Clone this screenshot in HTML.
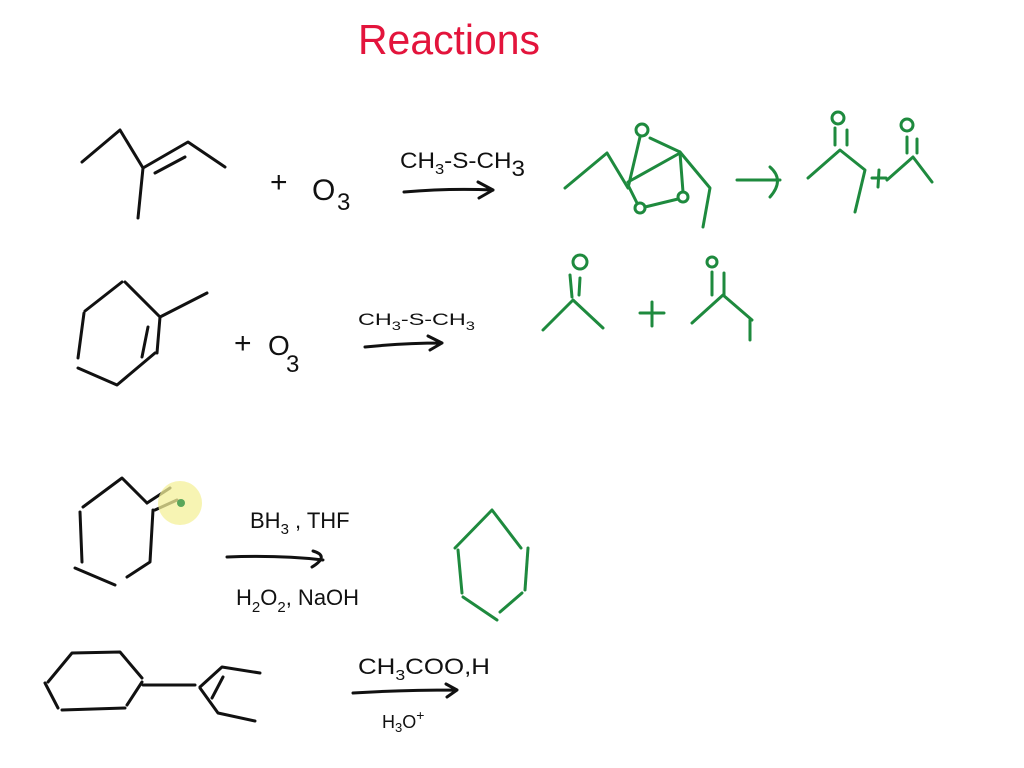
<!DOCTYPE html>
<html><head><meta charset="utf-8"><style>
html,body{margin:0;padding:0;background:#fff;}
svg{display:block}
text{font-family:"Liberation Sans",sans-serif;}
</style></head><body>
<svg width="1024" height="768" viewBox="0 0 1024 768" xmlns="http://www.w3.org/2000/svg">
<text x="358" y="54" font-size="42" fill="#e3143c" textLength="182" lengthAdjust="spacingAndGlyphs">Reactions</text>
<g fill="none" stroke="#111" stroke-width="3" stroke-linecap="round" stroke-linejoin="round">
<polyline points="82,162 120,130 143,168 138,218"/>
<polyline points="143,168 188,142 225,167"/>
<line x1="155" y1="173" x2="185" y2="157"/>
<path d="M404,192 Q450,188 493,190 M478,182 L493,190 L479,198"/>
<polyline points="85,311 122,282"/>
<polyline points="125,282 160,317 157,353"/>
<line x1="160" y1="317" x2="207" y2="293"/>
<line x1="148" y1="327" x2="142" y2="357"/>
<polyline points="155,353 117,385 78,368"/>
<line x1="78" y1="358" x2="84" y2="313"/>
<path d="M365,347 Q405,343 442,343 M428,336 L442,343 L430,350"/>
<polyline points="83,507 122,478 147,503"/>
<line x1="80" y1="512" x2="82" y2="562"/>
<line x1="75" y1="568" x2="115" y2="585"/>
<polyline points="127,577 150,562 153,510"/>
<line x1="147" y1="503" x2="170" y2="488"/>
<line x1="155" y1="510" x2="177" y2="500"/>
<path d="M227,557 Q280,555 323,560 M313,551 Q330,556 312,567"/>
<polyline points="48,682 72,653 120,652 142,678"/>
<polyline points="142,682 127,705"/>
<line x1="125" y1="708" x2="62" y2="710"/>
<line x1="58" y1="708" x2="45" y2="683"/>
<line x1="143" y1="685" x2="195" y2="685"/>
<polyline points="200,687 222,667 260,673"/>
<polyline points="200,688 218,713 255,721"/>
<line x1="223" y1="677" x2="212" y2="698"/>
<path d="M353,693 Q400,690 457,690 M446,684 L457,690 L447,697"/>
</g>
<circle cx="180" cy="503" r="22" fill="#f4f09a" opacity="0.75"/>
<circle cx="181" cy="503" r="4" fill="#5aa65a"/>
<g fill="#111" font-size="22">
<text x="270" y="192" font-size="30">+</text>
<text x="312" y="200" font-size="30">O</text><text x="337" y="210" font-size="24">3</text>
<text x="400" y="168" textLength="125" lengthAdjust="spacingAndGlyphs">CH<tspan font-size="15" dy="6">3</tspan><tspan dy="-6">-S-CH</tspan><tspan dy="8">3</tspan></text>
<text x="234" y="353" font-size="30">+</text>
<text x="268" y="355" font-size="28">O</text><text x="286" y="372" font-size="24">3</text>
<text x="358" y="325" font-size="17" textLength="117" lengthAdjust="spacingAndGlyphs">CH<tspan font-size="12" dy="5">3</tspan><tspan dy="-5">-S-CH</tspan><tspan font-size="12" dy="5">3</tspan></text>
<text x="250" y="528">BH<tspan font-size="15" dy="6">3</tspan><tspan dy="-6"> ,  THF</tspan></text>
<text x="236" y="605">H<tspan font-size="15" dy="7">2</tspan><tspan dy="-7">O</tspan><tspan font-size="15" dy="7">2</tspan><tspan dy="-7">, NaOH</tspan></text>
<text x="358" y="674" textLength="132" lengthAdjust="spacingAndGlyphs">CH<tspan font-size="15" dy="6">3</tspan><tspan dy="-6">COO,H</tspan></text>
<text x="382" y="728" font-size="18">H<tspan font-size="13" dy="4">3</tspan><tspan dy="-4">O</tspan><tspan font-size="14" dy="-8">+</tspan></text>
</g>
<g fill="none" stroke="#1e8a3e" stroke-width="3" stroke-linecap="round" stroke-linejoin="round">
<polyline points="565,188 607,153 628,188 640,137"/>
<circle cx="642" cy="130" r="6"/>
<line x1="650" y1="138" x2="680" y2="152"/>
<line x1="628" y1="182" x2="680" y2="153"/>
<polyline points="680,152 710,188 703,227"/>
<line x1="680" y1="153" x2="683" y2="192"/>
<circle cx="683" cy="197" r="5"/>
<line x1="678" y1="199" x2="645" y2="207"/>
<circle cx="640" cy="208" r="5"/>
<line x1="628" y1="185" x2="637" y2="203"/>
<path d="M737,180 L780,180 M770,167 Q785,180 770,197"/>
<polyline points="808,178 840,150 865,170 855,212"/>
<circle cx="838" cy="118" r="6"/>
<line x1="835" y1="128" x2="835" y2="145"/><line x1="847" y1="130" x2="847" y2="145"/>
<path d="M872,178 L886,178 M879,170 L878,187"/>
<polyline points="887,180 913,157 932,182"/>
<circle cx="907" cy="125" r="6"/>
<line x1="907" y1="137" x2="907" y2="153"/><line x1="917" y1="139" x2="917" y2="153"/>
<polyline points="543,330 573,300 603,328"/>
<circle cx="580" cy="262" r="7"/>
<line x1="570" y1="275" x2="572" y2="297"/><line x1="580" y1="278" x2="579" y2="295"/>
<path d="M640,313 L664,313 M652,302 L652,326"/>
<polyline points="692,323 723,295 752,320"/>
<line x1="750" y1="320" x2="750" y2="340"/>
<circle cx="712" cy="262" r="5"/>
<line x1="712" y1="272" x2="712" y2="295"/><line x1="724" y1="273" x2="724" y2="295"/>
<polyline points="455,548 492,510 521,548"/>
<line x1="528" y1="548" x2="525" y2="590"/>
<line x1="522" y1="593" x2="500" y2="612"/>
<line x1="497" y1="620" x2="463" y2="597"/>
<line x1="462" y1="593" x2="458" y2="550"/>
</g>
</svg>
</body></html>
